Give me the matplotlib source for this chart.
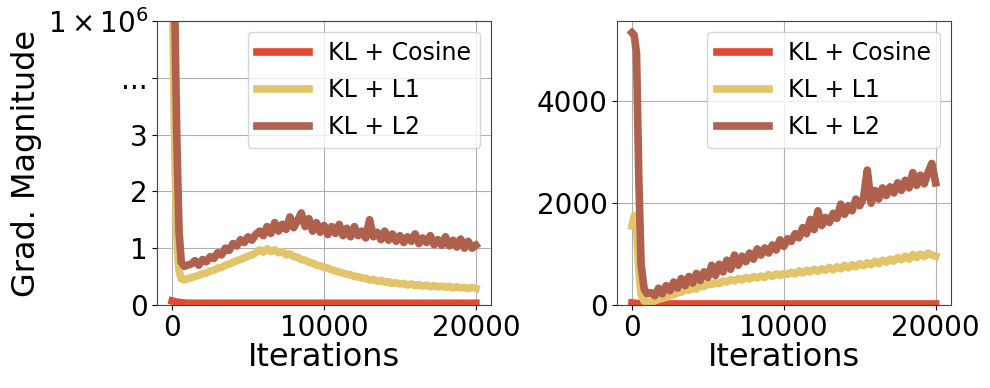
import matplotlib
matplotlib.use("Agg")
import matplotlib.pyplot as plt

# sampling grid (iterations)
iters = [0, 150, 300, 450, 600, 800, 1000] + list(range(1250, 20001, 250))
cos_iters = [0, 300, 600, 1000, 5000, 10000, 15000, 20000]

# left panel, in the panel's display units (tick 5 = 1e6)
left_cos = [0.07, 0.05, 0.04, 0.03, 0.03, 0.03, 0.03, 0.03]
left_l1 = [6.0, 3.0, 1.2, 0.6, 0.46, 0.44, 0.46,
           0.48, 0.50, 0.52, 0.55, 0.56, 0.60, 0.61, 0.65, 0.66, 0.70,
           0.72, 0.75, 0.78, 0.80, 0.83, 0.86, 0.88, 0.92, 0.97, 0.93,
           0.99, 0.94, 0.97, 0.92, 0.94, 0.88, 0.90, 0.85, 0.84, 0.80,
           0.79, 0.75, 0.74, 0.70, 0.69, 0.66, 0.65, 0.62, 0.60, 0.58,
           0.56, 0.54, 0.53, 0.50, 0.50, 0.47, 0.47, 0.44, 0.45, 0.42,
           0.43, 0.40, 0.41, 0.38, 0.39, 0.37, 0.38, 0.35, 0.37, 0.34,
           0.36, 0.33, 0.35, 0.32, 0.34, 0.32, 0.33, 0.31, 0.33, 0.30,
           0.32, 0.30, 0.31, 0.29, 0.31, 0.29]
left_l2 = [6.0, 5.5, 3.0, 1.3, 0.75, 0.68, 0.70,
           0.72, 0.78, 0.70, 0.80, 0.76, 0.85, 0.82, 0.92, 0.88, 1.00,
           0.96, 1.08, 1.04, 1.15, 1.10, 1.20, 1.14, 1.24, 1.30, 1.22,
           1.38, 1.26, 1.45, 1.30, 1.42, 1.33, 1.55, 1.36, 1.48, 1.62,
           1.38, 1.52, 1.30, 1.45, 1.28, 1.40, 1.24, 1.38, 1.26, 1.42,
           1.22, 1.35, 1.20, 1.38, 1.22, 1.30, 1.18, 1.50, 1.20, 1.28,
           1.15, 1.30, 1.14, 1.25, 1.12, 1.22, 1.10, 1.20, 1.12, 1.25,
           1.08, 1.18, 1.10, 1.22, 1.06, 1.15, 1.05, 1.20, 1.04, 1.14,
           1.02, 1.16, 1.00, 1.12, 1.00, 1.05]

# right panel
right_cos = [40, 30, 25, 20, 20, 20, 20, 20]
right_l1 = [1550, 1750, 1500, 700, 200, 80, 50,
            60, 80, 110, 130, 150, 190, 200, 240, 250, 300,
            290, 330, 310, 380, 360, 420, 400, 440, 420, 470,
            450, 500, 470, 520, 490, 540, 510, 560, 530, 570,
            540, 600, 560, 610, 580, 620, 600, 640, 610, 670,
            630, 680, 650, 700, 660, 710, 680, 740, 690, 750,
            710, 780, 730, 790, 750, 810, 770, 830, 790, 860,
            810, 880, 840, 900, 860, 930, 890, 960, 900, 990,
            930, 1000, 950, 1020, 980, 960]
right_l2 = [5350, 5300, 4950, 2500, 800, 320, 220,
            240, 180, 330, 220, 380, 280, 450, 330, 520, 380,
            560, 430, 620, 480, 650, 540, 780, 580, 800, 650,
            880, 700, 980, 780, 960, 850, 1020, 900, 1100, 980,
            1120, 1020, 1180, 1080, 1280, 1150, 1300, 1250, 1400, 1320,
            1520, 1400, 1680, 1480, 1850, 1560, 1720, 1620, 1800, 1700,
            1980, 1780, 1950, 1850, 2080, 1950, 2100, 2650, 2000, 2250,
            2080, 2300, 2150, 2320, 2200, 2400, 2250, 2450, 2300, 2600,
            2350, 2550, 2380, 2600, 2780, 2400]

labels = ['KL + Cosine', 'KL + L1', 'KL + L2']
colors = ['#E24A33', '#E2C46A', '#B0614E']

fig = plt.figure(figsize=(9.9, 3.88), dpi=100)
ax1 = fig.add_axes([0.1586, 0.214, 0.3374, 0.732])
ax2 = fig.add_axes([0.623, 0.214, 0.3374, 0.732])

lw = 5.5
ax1.plot(cos_iters, left_cos, color=colors[0], lw=lw, label=labels[0])
ax1.plot(iters, left_l1, color=colors[1], lw=lw, label=labels[1])
ax1.plot(iters, left_l2, color=colors[2], lw=lw, label=labels[2])
ax1.set_ylim(0, 5)
ax1.set_yticks([0, 1, 2, 3, 4, 5])
ax1.set_yticklabels(['0', '1', '2', '3', '...', r'$1\times10^6$'])
ax1.set_ylabel('Grad. Magnitude', fontsize=23)

ax2.plot(cos_iters, right_cos, color=colors[0], lw=lw, label=labels[0])
ax2.plot(iters, right_l1, color=colors[1], lw=lw, label=labels[1])
ax2.plot(iters, right_l2, color=colors[2], lw=lw, label=labels[2])
ax2.set_ylim(0, 5580)
ax2.set_yticks([0, 2000, 4000])

for ax in (ax1, ax2):
    ax.set_xlim(-1000, 21000)
    ax.set_xticks([0, 10000, 20000])
    ax.tick_params(labelsize=20, pad=3)
    ax.set_xlabel('Iterations', fontsize=23, labelpad=0)
    ax.grid(True, color='#b0b0b0', lw=0.8)
    ax.set_axisbelow(True)
    for s in ax.spines.values():
        s.set_color('#444444')
    ax.legend(loc='upper right', fontsize=17, handlelength=2.2,
              labelspacing=0.55, borderaxespad=0.45)

fig.savefig('out.png', dpi=100)
